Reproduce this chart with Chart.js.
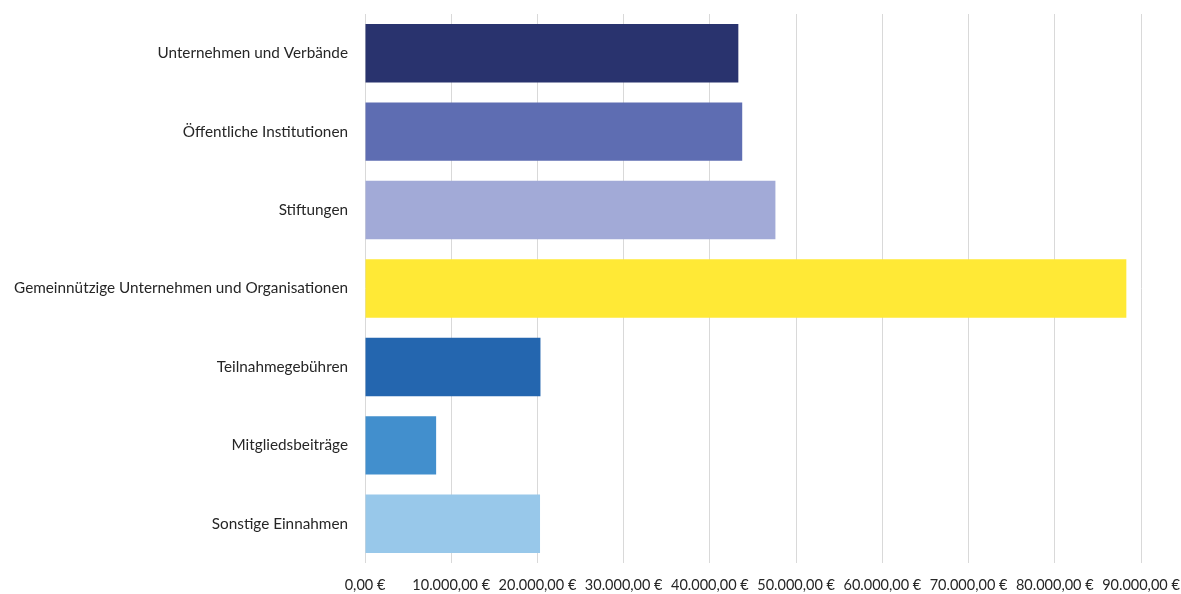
<!DOCTYPE html>
<html>
<head>
<meta charset="utf-8">
<script src="https://cdn.jsdelivr.net/npm/chart.js@4"></script>
<style>
  html, body { margin: 0; padding: 0; background: #fff; }
  #wrap { width: 1181px; height: 594px; }
</style>
</head>
<body>
<div id="wrap"><canvas id="myChart" width="1181" height="594"></canvas></div>
<script>
const categories = [
  'Unternehmen und Verbände',
  'Öffentliche Institutionen',
  'Stiftungen',
  'Gemeinnützige Unternehmen und Organisationen',
  'Teilnahmegebühren',
  'Mitgliedsbeiträge',
  'Sonstige Einnahmen'
];
const amounts = [43300, 43750, 47600, 88300, 20350, 8250, 20300];
const barColors = ['#29336e', '#5e6db2', '#a2aad7', '#ffe936', '#2466af', '#428fcd', '#98c8ea'];
const xMin = 0;
const xMax = 90000;
const xStep = 10000;

function euro(v) {
  return v.toLocaleString('de-DE', { minimumFractionDigits: 2, maximumFractionDigits: 2 }) + ' €';
}

const ctx = document.getElementById('myChart').getContext('2d');
const myChart = new Chart(ctx, {
  type: 'bar',
  data: {
    labels: categories,
    datasets: [{
      data: amounts,
      backgroundColor: barColors,
      borderWidth: 0,
      categoryPercentage: 1,
      barPercentage: 0.745
    }]
  },
  options: {
    indexAxis: 'y',
    responsive: false,
    animation: false,
    layout: { padding: { top: 14, right: 0, left: 0, bottom: 0 } },
    plugins: {
      legend: { display: false },
      tooltip: { enabled: false }
    },
    scales: {
      x: {
        min: xMin,
        max: xMax,
        border: { display: false },
        grid: { color: '#d9d9d9', lineWidth: 1, drawTicks: false },
        ticks: {
          stepSize: xStep,
          padding: 14,
          color: '#262626',
          font: { family: 'Lato', size: 14.5 },
          maxRotation: 0,
          callback: (v) => euro(v)
        },
        afterFit: (scale) => {
          scale.height = 31;
          scale.paddingLeft = 0;
          scale.paddingRight = 40;
        }
      },
      y: {
        border: { display: false },
        grid: { display: false, drawTicks: false },
        ticks: {
          padding: 17,
          color: '#262626',
          font: { family: 'Lato', size: 15.3 }
        },
        afterFit: (scale) => {
          scale.width = 365;
          scale.paddingTop = 0;
          scale.paddingBottom = 0;
        }
      }
    }
  }
});
</script>
</body>
</html>
